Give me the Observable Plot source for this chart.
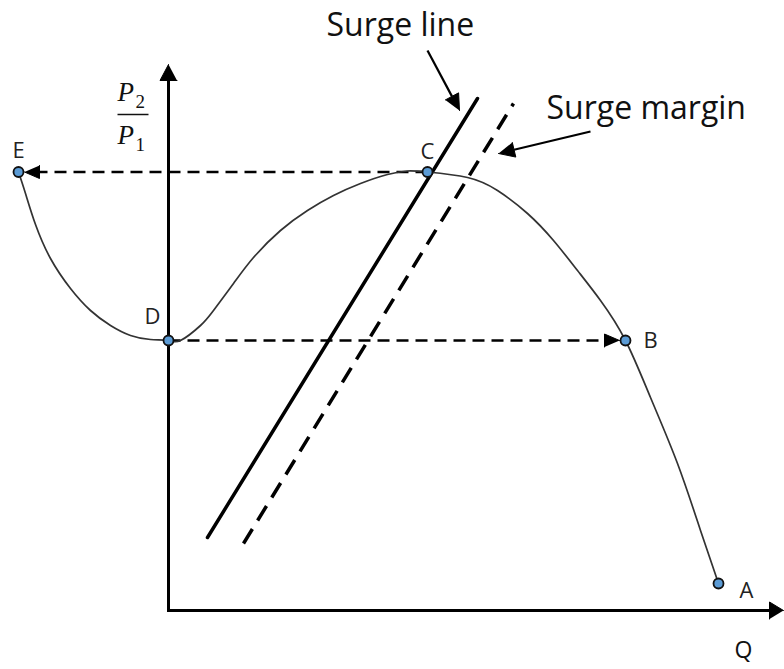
<!DOCTYPE html>
<html>
<head>
<meta charset="utf-8">
<script src="https://cdn.jsdelivr.net/npm/d3@7"></script>
<script src="https://cdn.jsdelivr.net/npm/@observablehq/plot@0.6"></script>
<style>
  html, body { margin: 0; padding: 0; background: #fff; }
  #chart svg { display: block; }
</style>
</head>
<body>
<div id="chart"></div>
<script>
// Compressor characteristic: flow Q against pressure ratio P2/P1 (schematic units)
const curveQ = [-30, -28.6, -26.6, -23.6, -19.6, -15.6, -11.6, -7.6, -3.6, 0,
  2.4, 6.4, 9, 13, 17, 22.4, 27.8, 33, 38.4, 43.8, 47.8, 51.8,
  59.8, 65.8, 71.8, 77, 81.8, 86.4, 91.4, 96.4, 101.8, 106.4, 110];
const curveRatio = [87.7, 83.4, 77.2, 70.4, 64.4, 60, 57, 55, 54.2, 54,
  54, 57, 60, 65.4, 70.6, 76, 80, 83, 85.4, 87.2, 87.9, 87.7,
  86.6, 84, 79.4, 74, 68, 62, 54, 42.6, 29.4, 16, 5.4];

// Operating points on the characteristic
const pointNames = ["E", "D", "C", "B", "A"];
const pointQ = [-30, 0, 51.8, 91.4, 110];
const pointRatio = [87.7, 54, 87.7, 54, 5.4];

// Surge line and the surge-margin (control) line
const surgeLineQ = [7.8, 61.8];
const surgeLineRatio = [14.6, 102.4];
const surgeMarginQ = [15, 69];
const surgeMarginRatio = [13.4, 101.4];

// Surge cycle jumps: C -> E (flow reversal) and D -> B (recovery)
const jumpFrom = ["C", "D"];
const jumpTo = ["E", "B"];

// Callout texts and where their arrows point
const calloutText = ["Surge line", "Surge margin"];
const calloutTextQ = [31.6, 75.6];
const calloutTextRatio = [115, 98.4];
const calloutArrowFromQ = [51.8, 84.4];
const calloutArrowFromRatio = [112, 95.8];
const calloutArrowToQ = [58.2, 66];
const calloutArrowToRatio = [100, 91.4];

// Axis extent
const axisQMax = 123;
const axisRatioMax = 109.2;

// ---- tables built from the arrays above ----
const curve = curveQ.map((q, i) => ({Q: q, R: curveRatio[i]}));
const points = pointNames.map((n, i) => ({name: n, Q: pointQ[i], R: pointRatio[i]}));
const byName = Object.fromEntries(points.map(p => [p.name, p]));
const surgeLine = [{Q1: surgeLineQ[0], R1: surgeLineRatio[0], Q2: surgeLineQ[1], R2: surgeLineRatio[1]}];
const surgeMargin = [{Q1: surgeMarginQ[0], R1: surgeMarginRatio[0], Q2: surgeMarginQ[1], R2: surgeMarginRatio[1]}];

// Scale: 5 px per unit on both axes, so directions are preserved on screen
const unit = 5;
const px = v => v / unit;

// Shaft ending at the base of a filled arrowhead; returns {shaft, head}
function arrowParts(id, q1, r1, q2, r2, len, half) {
  const dx = q2 - q1, dy = r2 - r1, d = Math.hypot(dx, dy);
  const ux = dx / d, uy = dy / d;
  const bq = q2 - ux * len, br = r2 - uy * len;
  return {
    shaft: {id, Q1: q1, R1: r1, Q2: bq, R2: br},
    head: [
      {id, Q: q2, R: r2},
      {id, Q: bq - uy * half, R: br + ux * half},
      {id, Q: bq + uy * half, R: br - ux * half}
    ]
  };
}

// Dashed jump arrows, stopping at the edge of the target point
const dotR = 5;
const jumps = jumpFrom.map((f, i) => {
  const a = byName[f], b = byName[jumpTo[i]];
  const dir = Math.sign(b.Q - a.Q);
  return arrowParts("jump" + i, a.Q, a.R, b.Q - dir * px(dotR + 1), b.R, px(15), px(6.5));
});

const callouts = calloutText.map((t, i) =>
  arrowParts("call" + i, calloutArrowFromQ[i], calloutArrowFromRatio[i],
    calloutArrowToQ[i], calloutArrowToRatio[i], px(16), px(7.5)));

const axes = [
  arrowParts("axisY", 0, 0, 0, axisRatioMax, px(16), px(8.5)),
  arrowParts("axisX", 0, 0, axisQMax, 0, px(14), px(8.5))
];

const labelStyle = {
  E: {dx: 0, dy: -14, textAnchor: "middle", lineAnchor: "bottom"},
  D: {dx: -16, dy: -17, textAnchor: "middle", lineAnchor: "bottom"},
  C: {dx: 0, dy: -13, textAnchor: "middle", lineAnchor: "bottom"},
  B: {dx: 18, dy: 0, textAnchor: "start", lineAnchor: "middle"},
  A: {dx: 21, dy: 7, textAnchor: "start", lineAnchor: "middle"}
};

const sans = "'Open Sans', sans-serif";
const serif = "'Liberation Serif', serif";

const plot = Plot.plot({
  width: 784,
  height: 669,
  margin: 0,
  x: {domain: [-168 / unit, 616 / unit], axis: null},
  y: {domain: [-59 / unit, 610 / unit], axis: null},
  style: {background: "#fff", overflow: "visible"},
  marks: [
    // axes
    Plot.link(axes.map(a => a.shaft), {x1: "Q1", y1: "R1", x2: "Q2", y2: "R2", stroke: "#000", strokeWidth: 3, strokeLinecap: "square"}),
    Plot.line(axes.flatMap(a => a.head), {x: "Q", y: "R", z: "id", fill: "#000", stroke: "#000", strokeWidth: 1}),

    // surge line (solid) and surge margin (dashed)
    Plot.link(surgeLine, {x1: "Q1", y1: "R1", x2: "Q2", y2: "R2", stroke: "#000", strokeWidth: 3.5, strokeLinecap: "round"}),
    Plot.link(surgeMargin, {x1: "Q1", y1: "R1", x2: "Q2", y2: "R2", stroke: "#000", strokeWidth: 3.5, strokeDasharray: "17,10"}),

    // surge cycle jumps
    Plot.link(jumps.map(j => j.shaft), {x1: "Q1", y1: "R1", x2: "Q2", y2: "R2", stroke: "#000", strokeWidth: 2.5, strokeDasharray: "12,7"}),
    Plot.line(jumps.flatMap(j => j.head), {x: "Q", y: "R", z: "id", fill: "#000", stroke: "#000", strokeWidth: 1}),

    // compressor characteristic
    Plot.line(curve, {x: "Q", y: "R", curve: "natural", stroke: "#333", strokeWidth: 1.7}),

    // callout arrows and texts
    Plot.link(callouts.map(c => c.shaft), {x1: "Q1", y1: "R1", x2: "Q2", y2: "R2", stroke: "#000", strokeWidth: 2.2}),
    Plot.line(callouts.flatMap(c => c.head), {x: "Q", y: "R", z: "id", fill: "#000", stroke: "#000", strokeWidth: 1}),
    Plot.text(calloutText.map((t, i) => ({t, Q: calloutTextQ[i], R: calloutTextRatio[i]})), {
      x: "Q", y: "R", text: "t", textAnchor: "start", lineAnchor: "bottom",
      fontFamily: sans, fontSize: 32, fill: "#111"
    }),

    // operating points and their letters
    Plot.dot(points, {x: "Q", y: "R", r: dotR, fill: "#5b9bd5", stroke: "#111", strokeWidth: 1.8}),
    ...points.map(p => Plot.text([p], {
      x: "Q", y: "R", text: "name", ...labelStyle[p.name],
      fontFamily: sans, fontSize: 22, fill: "#222"
    })),

    // axis titles: Q and the fraction P2/P1
    Plot.text([{t: "Q", Q: 115, R: -9.4}], {x: "Q", y: "R", text: "t", textAnchor: "middle", lineAnchor: "bottom", fontFamily: sans, fontSize: 23, fill: "#111"}),
    Plot.text([{t: "P", Q: -10.2, R: 102}, {t: "P", Q: -10.2, R: 93.4}], {x: "Q", y: "R", text: "t", textAnchor: "start", lineAnchor: "bottom", fontFamily: serif, fontStyle: "italic", fontSize: 27, fill: "#111"}),
    Plot.text([{t: "2", Q: -6.6, R: 100.6}, {t: "1", Q: -6.6, R: 92}], {x: "Q", y: "R", text: "t", textAnchor: "start", lineAnchor: "bottom", fontFamily: serif, fontSize: 19, fill: "#111"}),
    Plot.link([{Q1: -10.2, Q2: -4, R: 99.2}], {x1: "Q1", x2: "Q2", y1: "R", y2: "R", stroke: "#111", strokeWidth: 1.5})
  ]
});

document.getElementById("chart").append(plot);
</script>
</body>
</html>
